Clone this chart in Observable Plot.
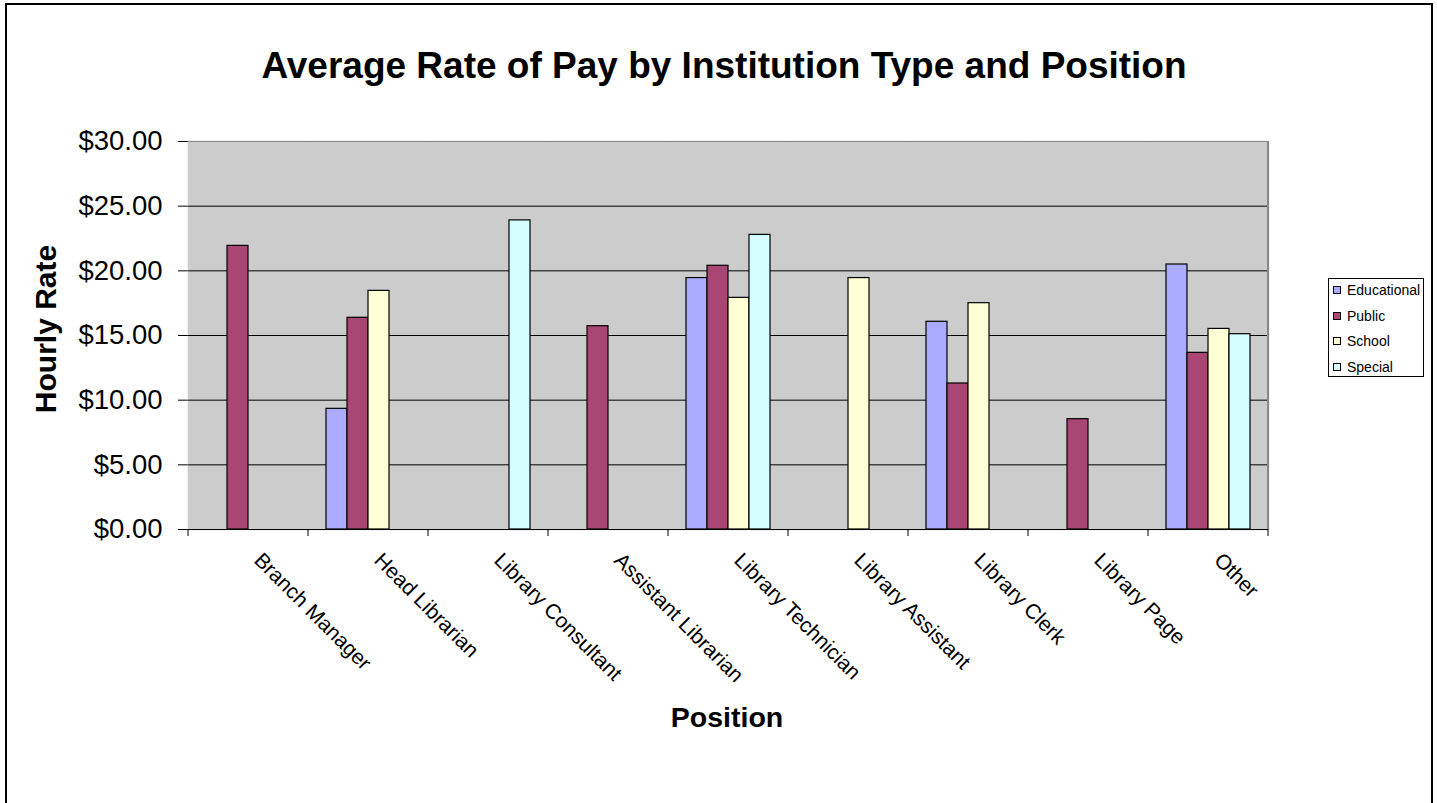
<!DOCTYPE html>
<html><head><meta charset="utf-8">
<script src="https://cdn.jsdelivr.net/npm/d3@7"></script>
<script src="https://cdn.jsdelivr.net/npm/@observablehq/plot@0.6"></script>
<style>
html,body{margin:0;padding:0;background:#fff;overflow:hidden;}
#wrap{position:relative;width:1437px;height:803px;font-family:"Liberation Sans",Arial,sans-serif;overflow:hidden;color:#000;}
#border{position:absolute;left:5px;top:3px;width:1428px;height:840px;border:2px solid #000;box-sizing:border-box;}
#title{position:absolute;left:0;top:45px;width:1448px;text-align:center;font-weight:bold;font-size:37px;white-space:nowrap;}
#chart{position:absolute;left:0;top:0;}
.ylab{position:absolute;left:46px;top:329px;transform:translate(-50%,-50%) rotate(-90deg);font-weight:bold;font-size:30px;white-space:nowrap;}
.xlab{position:absolute;left:727px;top:717px;transform:translate(-50%,-50%);font-weight:bold;font-size:28.5px;white-space:nowrap;}
#legend{position:absolute;left:1328px;top:278px;width:96px;height:99px;border:1px solid #000;box-sizing:border-box;background:#fff;}
#legend .item{position:absolute;left:4px;height:20px;line-height:20px;font-size:14px;white-space:nowrap;}
#legend .sw{display:inline-block;width:8px;height:8px;border:1px solid #000;box-sizing:border-box;margin-right:6px;vertical-align:middle;position:relative;top:-1px;}
svg [aria-label^="y-axis"] text{font-size:27.5px;}
svg [aria-label^="fx-axis"] text{font-size:21px;}
</style>
</head>
<body>
<div id="wrap">
  <div id="border"></div>
  <div id="chart"></div>
  <div id="title">Average Rate of Pay by Institution Type and Position</div>
  <div class="ylab">Hourly Rate</div>
  <div class="xlab">Position</div>
  <div id="legend"></div>
</div>
<script>
const positions = ["Branch Manager","Head Librarian","Library Consultant","Assistant Librarian","Library Technician","Library Assistant","Library Clerk","Library Page","Other"];
const series = ["Educational","Public","School","Special"];
const colors = ["#aaaaff","#a94674","#ffffd5","#d5ffff"];
const educational = [null, 9.33, null, null, 19.44, null, 16.06, null, 20.49];
const publicRates = [21.93, 16.37, null, 15.72, 20.39, null, 11.29, 8.53, 13.66];
const school = [null, 18.45, null, null, 17.91, 19.44, 17.5, null, 15.51];
const special = [null, null, 23.9, null, 22.78, null, null, null, 15.1];
const yTicks = [0,5,10,15,20,25,30];
const gridValues = [5,10,15,20,25];

const seriesValues = [educational, publicRates, school, special];
const rows = [];
positions.forEach((p, i) => {
  series.forEach((s, j) => {
    const v = seriesValues[j][i];
    if (v != null) rows.push({position: p, series: s, value: v});
  });
});

const chart = Plot.plot({
  width: 1437, height: 803,
  marginTop: 141, marginBottom: 274, marginLeft: 188, marginRight: 169,
  style: {fontFamily: '"Liberation Sans", Arial, sans-serif', fontSize: "21px", color: "#000", background: "transparent", overflow: "visible"},
  fx: {domain: positions, padding: 0, label: null, tickSize: 0, tickRotate: 45, tickPadding: 18},
  x: {domain: series, paddingInner: 0, paddingOuter: 0.79, axis: null},
  y: {domain: [0, 30], ticks: yTicks, tickFormat: d => "$" + d.toFixed(2), label: null, tickSize: 10, tickPadding: 16, line: true},
  color: {domain: series, range: colors},
  facet: {data: rows, x: "position"},
  marks: [
    Plot.frame({fill: "#cccccc", stroke: "#cccccc", strokeWidth: 1.5}),
    Plot.ruleY(gridValues, {stroke: "#000"}),
    Plot.ruleY([30], {stroke: "#888"}),
    Plot.barY(rows, {x: "series", y: "value", fill: "series", stroke: "#000", strokeWidth: 1.2}),
    Plot.ruleY([0], {stroke: "#000"})
  ]
});
document.getElementById("chart").appendChild(chart);

// Category boundary ticks and right plot border, positioned with Plot's own scales
try {
  const fxs = chart.scale("fx");
  const ys = chart.scale("y");
  const band = d3.scaleBand().domain(fxs.domain).range(fxs.range).paddingInner(0).paddingOuter(0);
  const yS = d3.scaleLinear().domain(ys.domain).range(ys.range);
  const edges = fxs.domain.map(d => band(d));
  const rightEdge = band(fxs.domain[fxs.domain.length - 1]) + band.bandwidth();
  edges.push(rightEdge);
  const svg = d3.select(chart);
  const g = svg.append("g").attr("aria-label", "category-ticks");
  g.selectAll("line").data(edges).join("line")
    .attr("x1", d => d).attr("x2", d => d)
    .attr("y1", yS(0)).attr("y2", yS(0) + 7)
    .attr("stroke", "#000");
  svg.append("line")
    .attr("x1", rightEdge).attr("x2", rightEdge)
    .attr("y1", yS(30)).attr("y2", yS(0))
    .attr("stroke", "#888").attr("stroke-width", 2);
  // shift rotated category labels along their direction, as in the original
  svg.selectAll('[aria-label^="fx-axis"] text').attr("dx", 13);
} catch (e) { console.error(e); }

// Legend
const legend = d3.select("#legend");
series.forEach((s, i) => {
  const item = legend.append("div").attr("class", "item").style("top", (1 + i * 25.5) + "px");
  item.append("span").attr("class", "sw").style("background", colors[i]);
  item.append("span").text(s);
});
</script>
</body></html>
